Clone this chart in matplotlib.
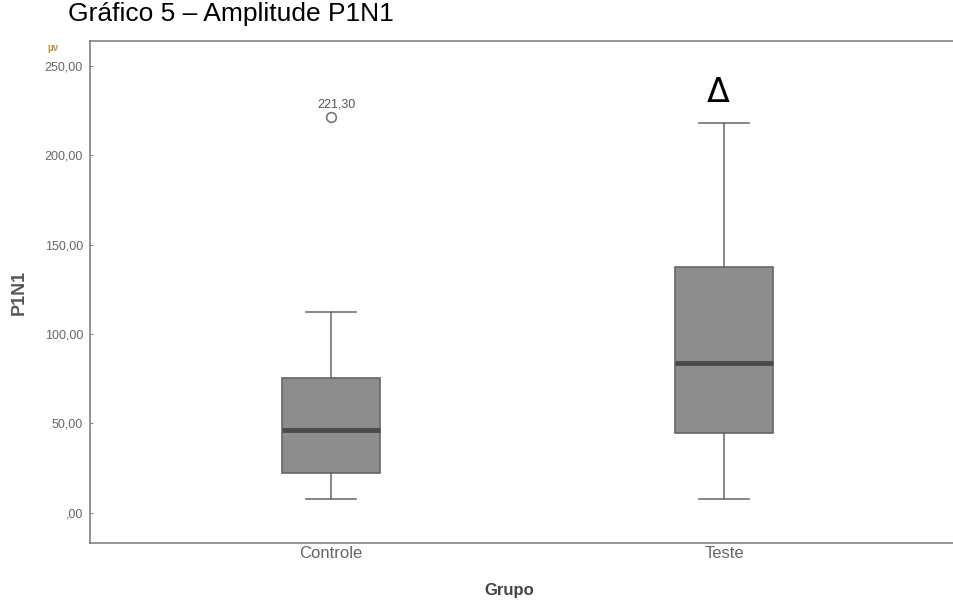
import matplotlib
matplotlib.use("Agg")
import matplotlib.pyplot as plt

plt.rcParams['font.family'] = ['Liberation Sans', 'DejaVu Sans']

# box statistics
groups = ["Controle", "Teste"]
q1 = [22.4, 44.4]
medians = [46.4, 84.0]
q3 = [75.5, 137.3]
whis_lo = [7.5, 7.5]
whis_hi = [112.5, 218.0]
outliers = [[221.3], []]
outlier_labels = ["221,30"]

yticks = [0, 50, 100, 150, 200, 250]
ytick_labels = [",00", "50,00", "100,00", "150,00", "200,00", "250,00"]

stats = []
for i, g in enumerate(groups):
    stats.append(dict(label=g, q1=q1[i], med=medians[i], q3=q3[i],
                      whislo=whis_lo[i], whishi=whis_hi[i], fliers=outliers[i]))

fig = plt.figure(figsize=(9.54, 6), dpi=100)
ax = fig.add_axes([0.0943, 0.095, 0.9057, 0.8367])

positions = [1, 2]
ax.bxp(stats, positions=positions, widths=0.25, capwidths=0.127,
       patch_artist=True, showfliers=True,
       boxprops=dict(facecolor="#8d8d8d", edgecolor="#666666", linewidth=1.2),
       medianprops=dict(color="#4a4a4a", linewidth=3.5),
       whiskerprops=dict(color="#666666", linewidth=1.1),
       capprops=dict(color="#666666", linewidth=1.1),
       flierprops=dict(marker="o", markersize=7, markerfacecolor="white",
                       markeredgecolor="#777777", markeredgewidth=1.2))

# label on the outlier
ax.annotate(outlier_labels[0], (positions[0], outliers[0][0]), xytext=(4, 5),
            textcoords="offset points", ha="center", va="bottom",
            fontsize=9, color="#555555")

# significance marker above the Teste box
ax.annotate("Δ", (positions[1], whis_hi[1]), xytext=(-4, 10),
            textcoords="offset points", ha="center", va="bottom",
            fontsize=24, color="black", family=["DejaVu Sans"])

ax.set_xlim(0.387, 2.585)
ax.set_ylim(-17, 264)
ax.set_yticks(yticks)
ax.set_yticklabels(ytick_labels)
ax.set_xticks(positions)
ax.set_xticklabels(groups)

ax.tick_params(axis="y", direction="in", length=2, color="#888888",
               labelsize=9, labelcolor="#666666", pad=5)
ax.tick_params(axis="x", length=0, labelsize=12, labelcolor="#666666", pad=2)

for s in ["top", "left", "bottom"]:
    ax.spines[s].set_color("#777777")
    ax.spines[s].set_linewidth(1.1)
ax.spines["right"].set_visible(False)

ax.set_ylabel("P1N1", fontsize=13, fontweight="bold", color="#555555", labelpad=12)
ax.set_xlabel("Grupo", fontsize=12, fontweight="bold", color="#444444")
ax.xaxis.set_label_coords(0.485, -0.08)

fig.text(0.05, 0.915, "µv", fontsize=7, fontweight="bold", color="#b8943e")
fig.text(0.0713, 0.977, "Gráfico 5 – Amplitude P1N1", fontsize=19, va="center")

fig.savefig("out.png", dpi=100)
